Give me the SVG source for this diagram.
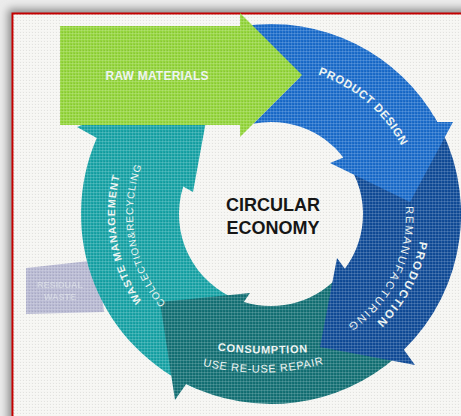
<svg xmlns="http://www.w3.org/2000/svg" width="461" height="416" viewBox="0 0 461 416">
  <defs>
    <style>
      .lbl { fill: #eef4f2; font-family: "Liberation Sans", Arial, sans-serif; }
      .b { font-weight: bold; }
      .title { fill: #161616; font-family: "Liberation Sans", Arial, sans-serif; font-weight: bold; font-size: 18px; text-anchor: middle; }
    </style>
    <pattern id="canvas" width="3" height="3" patternUnits="userSpaceOnUse">
      <rect x="0" y="0" width="3" height="1" fill="#ffffff" opacity="0.16"/>
      <rect x="0" y="0" width="1" height="3" fill="#ffffff" opacity="0.12"/>
      <rect x="2" y="2" width="1" height="1" fill="#000000" opacity="0.08"/>
    </pattern>
    <filter id="shadow" x="-10%" y="-10%" width="120%" height="120%">
      <feGaussianBlur stdDeviation="4"/>
    </filter>
    <!-- text baselines -->
    <path id="arc-design" d="M296.5,69.2 A147,147 0 0 1 410.0,166.1"/>
    <path id="arc-production" d="M422.0,208.8 A151,151 0 0 1 351.0,342.1"/>
    <path id="arc-reman" d="M405.7,204.6 A135,135 0 0 1 346.5,325.9"/>
    <path id="arc-waste" d="M151.5,314.3 A156,156 0 0 1 124.4,160.6"/>
    <path id="arc-collect" d="M173.4,311.6 A138,138 0 0 1 145.9,155.7"/>
    <path id="arc-consume" d="M205,349 Q262,357 320,351"/>
    <path id="arc-use" d="M192,363 Q263,383 334,361"/>
  </defs>

  <!-- page and frame -->
  <rect width="461" height="416" fill="#ececec"/>
  <rect x="8" y="9" width="470" height="430" fill="#8a8a8a" filter="url(#shadow)"/>
  <rect x="12.5" y="13.5" width="460" height="420" fill="#f5f5f2" stroke="#c40000" stroke-width="2"/>

  <!-- outgoing residual arrow -->
  <g id="node-residual">
    <path d="M26,268 L98,260 L104,312 L26,314 Z" fill="#b6b7d1"/>
    <text class="lbl b" x="60" y="288" font-size="9" text-anchor="middle" opacity="0.45">RESIDUAL</text>
    <text class="lbl b" x="60" y="300" font-size="9" text-anchor="middle" opacity="0.45">WASTE</text>
  </g>

  <g id="node-waste-management">
    <path d="M196.8,388.9 A190,190 0 0 1 96.8,138.1 L77,127 L215,72 L193,192 L183.2,186.5 A92,92 0 0 0 239.5,300.5 L200,335 Z" fill="#17a2a5"/>
  </g>

  <g id="node-consumption">
    <path d="M395.7,357.4 A190,190 0 0 1 186.2,384.0 L175,400 L160,302 L250,293 L243.8,301.9 A92,92 0 0 0 341.5,273.1 L335,305 Z" fill="#137074"/>
  </g>

  <g id="node-production">
    <path d="M433.9,116.1 A190,190 0 0 1 403.9,349.8 L415,365 L320,347 L337,258 L344.9,268.8 A92,92 0 0 0 341.5,154.9 L405,196 Z" fill="#104b97"/>
  </g>

  <g id="node-product-design">
    <path d="M244.6,25.8 A190,190 0 0 1 437.2,121.9 L453,122 L410,202 L330,163 L343.5,157.4 A92,92 0 0 0 253.3,123.7 L300,77 Z" fill="#1a6bca"/>
  </g>

  <g id="node-raw-materials">
    <path d="M60,26 H240 V13 L302,75 L240,137 V125 H60 Z" fill="#92d43a"/>
  </g>

  <g id="connectors"/>

  <!-- canvas grain over the whole sheet -->
  <rect x="13" y="14" width="448" height="402" fill="url(#canvas)"/>

  <!-- labels -->
  <g id="labels">
    <text class="lbl b" x="157" y="80" font-size="12" text-anchor="middle" textLength="103">RAW MATERIALS</text>
    <text class="lbl b" font-size="11.5"><textPath href="#arc-design" startOffset="50%" text-anchor="middle" textLength="112">PRODUCT DESIGN</textPath></text>
    <text class="lbl b" font-size="11.5"><textPath href="#arc-production" startOffset="50%" text-anchor="middle" textLength="93">PRODUCTION</textPath></text>
    <text class="lbl" font-size="11"><textPath href="#arc-reman" startOffset="50%" text-anchor="middle" textLength="138">REMANUFACTURING</textPath></text>
    <text class="lbl b" font-size="11"><textPath href="#arc-consume" startOffset="50%" text-anchor="middle" textLength="90">CONSUMPTION</textPath></text>
    <text class="lbl" font-size="11"><textPath href="#arc-use" startOffset="50%" text-anchor="middle" textLength="122">USE RE-USE REPAIR</textPath></text>
    <text class="lbl b" font-size="10.5"><textPath href="#arc-waste" startOffset="50%" text-anchor="middle" textLength="131">WASTE MANAGEMENT</textPath></text>
    <text class="lbl" font-size="10"><textPath href="#arc-collect" startOffset="50%" text-anchor="middle" textLength="146">COLLECTION&amp;RECYCLING</textPath></text>
  </g>

  <g id="node-center-title">
    <text class="title" x="273" y="211">CIRCULAR</text>
    <text class="title" x="273" y="234">ECONOMY</text>
  </g>
</svg>
